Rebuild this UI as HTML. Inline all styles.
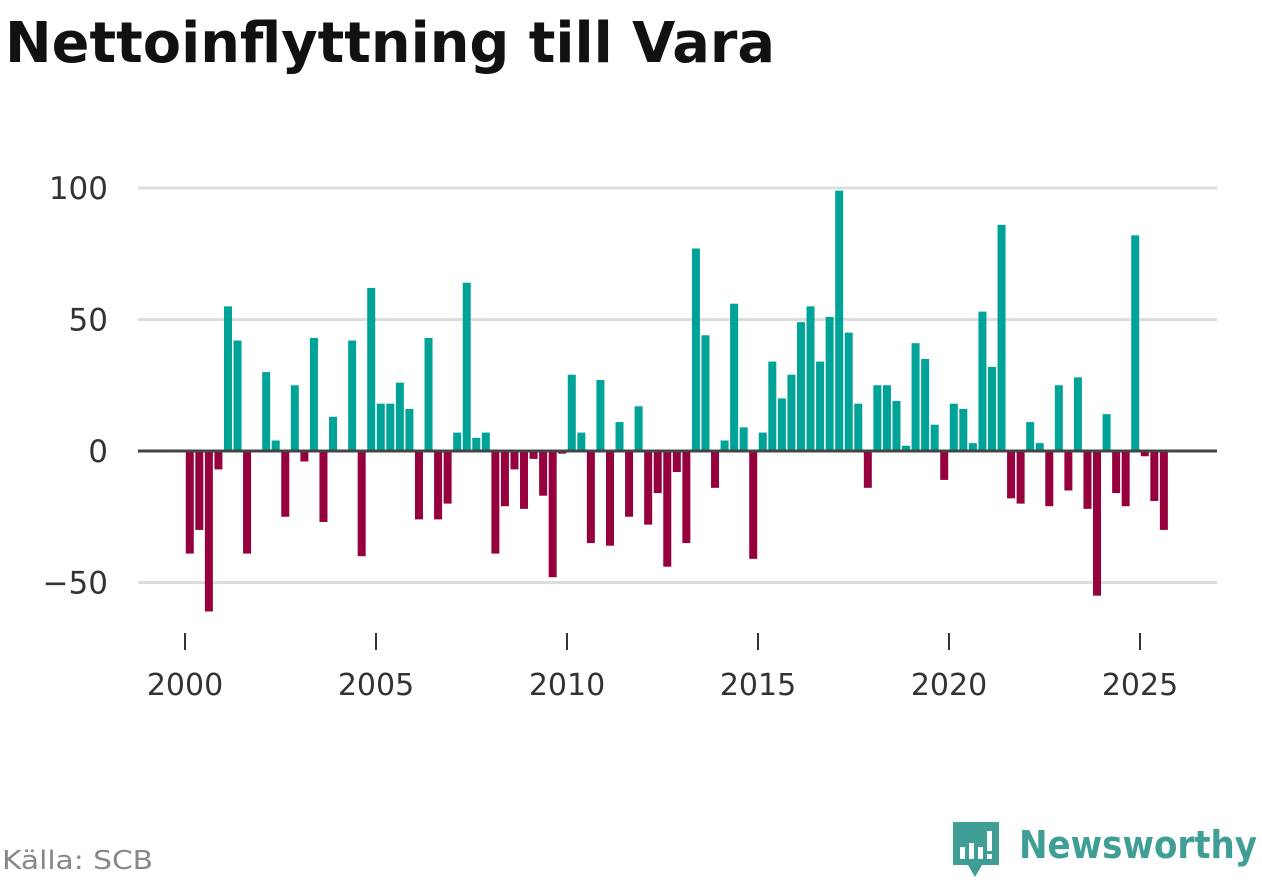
<!DOCTYPE html>
<html><head><meta charset="utf-8">
<style>
html,body{margin:0;padding:0;background:#fff;width:1262px;height:879px;overflow:hidden;font-family:"DejaVu Sans","Liberation Sans",sans-serif;}
</style></head><body>
<svg id="title" width="1262" height="90" style="position:absolute;left:0;top:0">
<text x="5" y="62" font-family="DejaVu Sans, sans-serif" font-weight="bold" font-size="56" fill="#111" textLength="770" lengthAdjust="spacingAndGlyphs">Nettoinflyttning till Vara</text>
</svg>
<svg id="chart" width="1262" height="879" style="position:absolute;left:0;top:0"></svg>
<svg id="src" width="200" height="40" style="position:absolute;left:0;top:840px">
<text x="2" y="29" font-family="DejaVu Sans, sans-serif" font-size="26" fill="#888" textLength="151" lengthAdjust="spacingAndGlyphs">Källa: SCB</text>
</svg>
<svg id="logo" width="312" height="60" style="position:absolute;left:950px;top:819px">
<path d="M3 3 H49 V46 H32 L25 58 L18 46 H3 Z" fill="#3f9e96"/>
<rect x="10" y="28" width="5" height="12" fill="#fff"/><rect x="19" y="24" width="5" height="16" fill="#fff"/><rect x="28" y="28" width="5" height="12" fill="#fff"/><rect x="37" y="12" width="5" height="20" fill="#fff"/><rect x="37" y="35" width="5" height="5" fill="#fff"/>
<text x="69" y="39" font-family="DejaVu Sans, sans-serif" font-weight="bold" font-size="38" fill="#3f9e96" textLength="238" lengthAdjust="spacingAndGlyphs">Newsworthy</text>
</svg>
<script>
const values=[-39,-30,-61,-7,55,42,-39,0,30,4,-25,25,-4,43,-27,13,0,42,-40,62,18,18,26,16,-26,43,-26,-20,7,64,5,7,-39,-21,-7,-22,-3,-17,-48,-1,29,7,-35,27,-36,11,-25,17,-28,-16,-44,-8,-35,77,44,-14,4,56,9,-41,7,34,20,29,49,55,34,51,99,45,18,-14,25,25,19,2,41,35,10,-11,18,16,3,53,32,86,-18,-20,11,3,-21,25,-15,28,-22,-55,14,-16,-21,82,-2,-19,-30];
const startYear=2000;
const yTicks=[100,50,0,-50];
const yTickLabels=["100","50","0","\u221250"];
const xTicks=[2000,2005,2010,2015,2020,2025];
const NS="http://www.w3.org/2000/svg";
const svg=document.getElementById('chart');
const y=v=>451-v*2.63;
const x=yr=>185+(yr-2000)*38.2;
function mk(t,a){const e=document.createElementNS(NS,t);for(const k in a)e.setAttribute(k,a[k]);svg.appendChild(e);return e;}
yTicks.forEach((t,i)=>{
 if(t!==0){const g=mk('line',{x1:138,x2:1217,y1:y(t),y2:y(t),stroke:'#ddd','stroke-width':3});
 
 }
 const tx=mk('text',{x:108,y:y(t)+11,'text-anchor':'end','font-size':31,fill:'#333','font-family':'DejaVu Sans, sans-serif'});
 tx.textContent=yTickLabels[i];
 
 
});
values.forEach((v,i)=>{
 const cx=x(startYear+i*0.25+0.125);
 const r=mk('rect',{x:cx-4,width:8,y:v>=0?y(v):y(0),height:Math.abs(y(v)-y(0)),fill:v>=0?'#00a398':'#96003c'});
 
 
});
const z=mk('line',{x1:138,x2:1217,y1:y(0),y2:y(0),stroke:'#444','stroke-width':3});


xTicks.forEach(t=>{
 const l=mk('line',{x1:x(t),x2:x(t),y1:633,y2:650,stroke:'#333','stroke-width':2});
 
 
 const tx=mk('text',{x:x(t),y:695,'text-anchor':'middle','font-size':30,fill:'#333','font-family':'DejaVu Sans, sans-serif'});
 tx.textContent=t;
 
 
});
</script>
</body></html>
